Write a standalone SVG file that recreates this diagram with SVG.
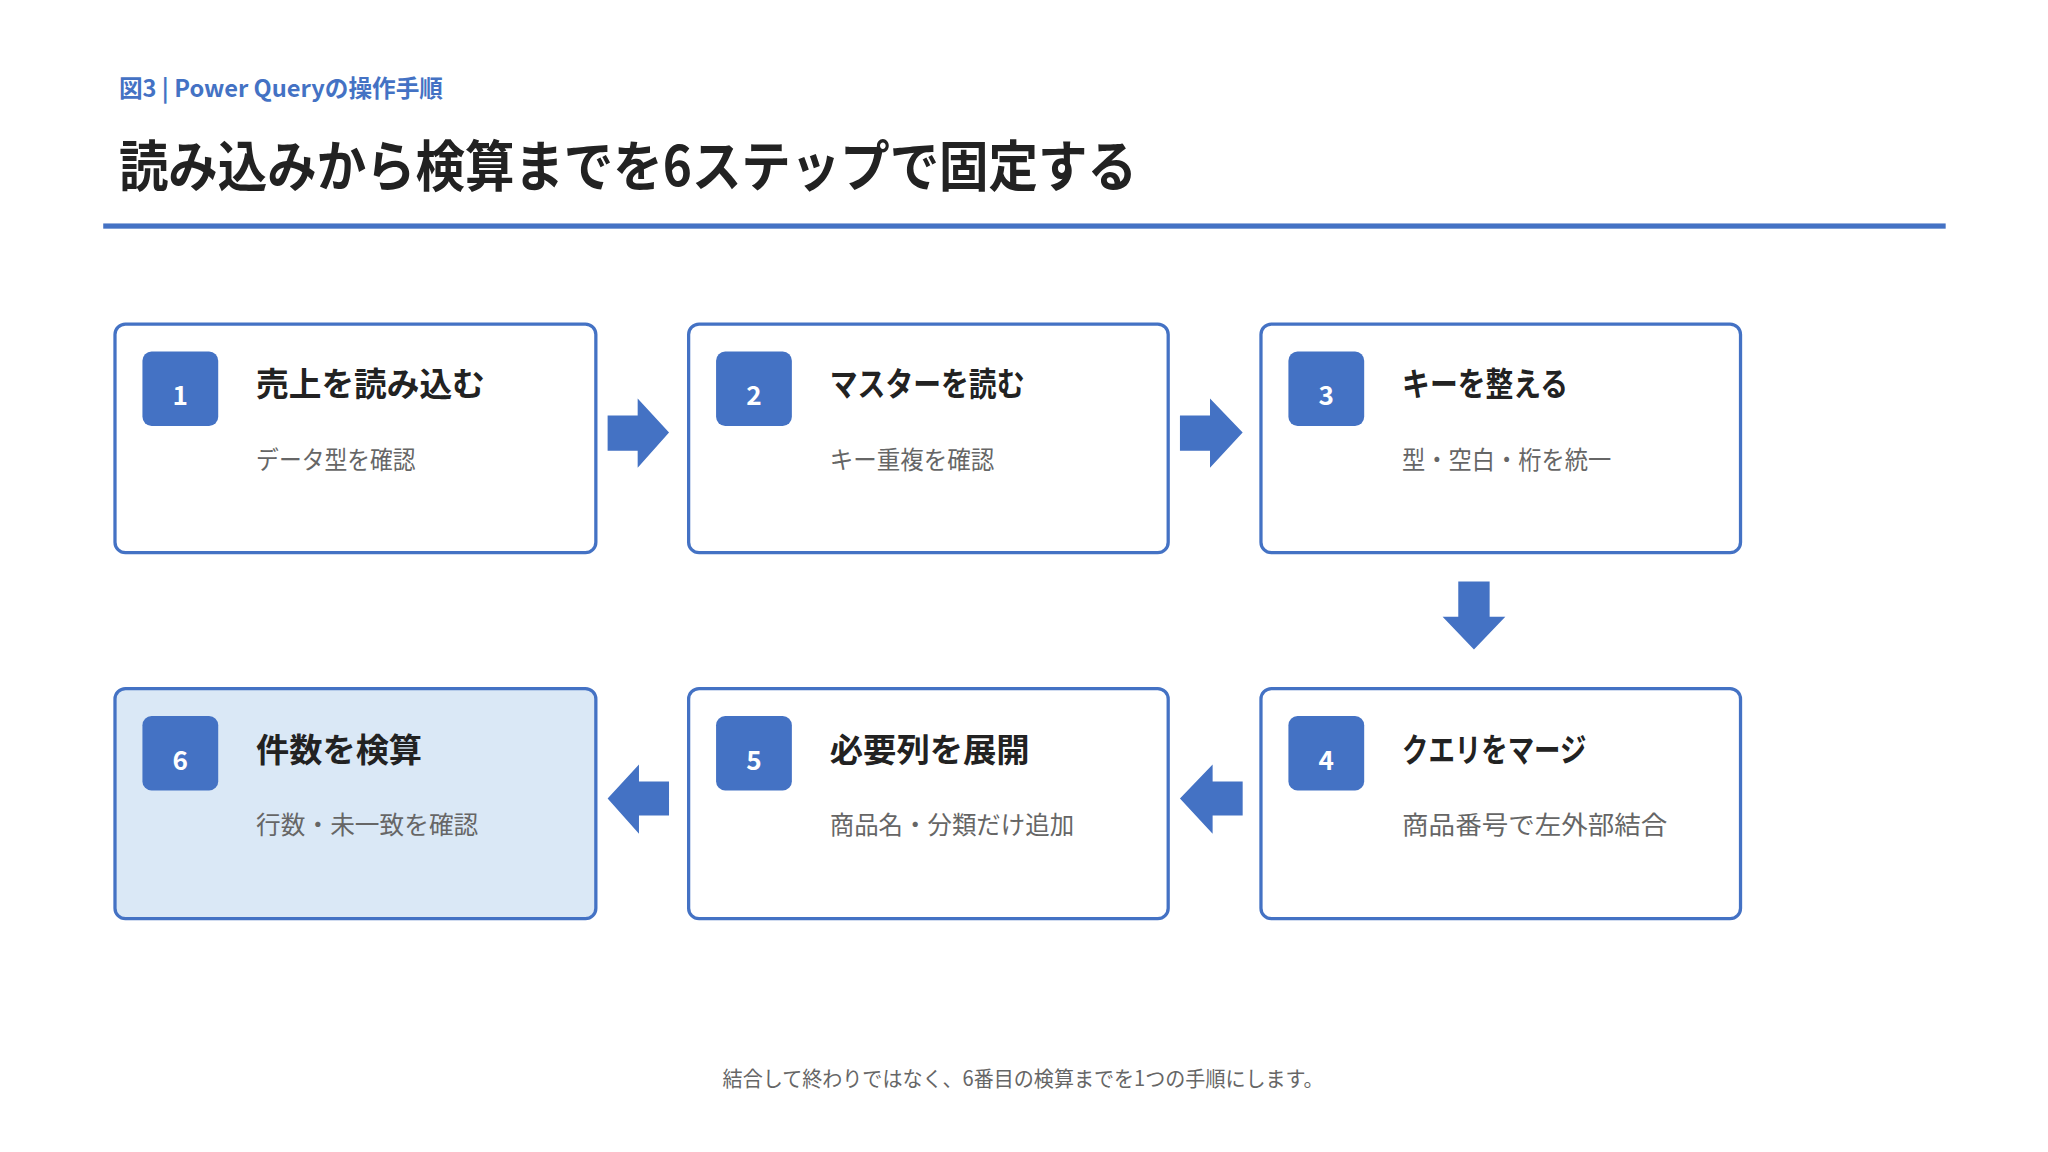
<svg xmlns="http://www.w3.org/2000/svg" width="2048" height="1152" viewBox="0 0 2048 1152">
<style>
text{font-family:"Noto Sans CJK JP","Noto Sans",sans-serif}
.box{fill:#fff;stroke:#4472C4;stroke-width:2.5}
.badge{fill:#4472C4}
.num{fill:#fff;font-size:20px;font-weight:bold;text-anchor:middle}
.ttl{fill:#222;font-size:25px;font-weight:bold}
.sub{fill:#666;font-size:19px}
.arr{fill:#4472C4}
</style>
<rect width="2048" height="1152" fill="#fff"/>
<g transform="scale(1.3067)">
<text x="91" y="74" fill="#4472C4" font-size="18" font-weight="bold" textLength="248" lengthAdjust="spacingAndGlyphs">図3 | Power Queryの操作手順</text>
<text x="91" y="142" fill="#222" font-size="42" font-weight="bold" textLength="779" lengthAdjust="spacingAndGlyphs">読み込みから検算までを6ステップで固定する</text>
<rect x="79" y="171" width="1410" height="4" fill="#4472C4"/>
<g id="n1"><rect class="box" x="88" y="248" width="368" height="175" rx="8"/><rect class="badge" x="109" y="269" width="58" height="57" rx="7"/><text class="num" x="138" y="310">1</text><text class="ttl" x="196" y="303" textLength="175" lengthAdjust="spacingAndGlyphs">売上を読み込む</text><text class="sub" x="196" y="359" textLength="122" lengthAdjust="spacingAndGlyphs">データ型を確認</text></g>
<g id="n2"><rect class="box" x="527" y="248" width="367" height="175" rx="8"/><rect class="badge" x="548" y="269" width="58" height="57" rx="7"/><text class="num" x="577" y="310">2</text><text class="ttl" x="635" y="303" textLength="149" lengthAdjust="spacingAndGlyphs">マスターを読む</text><text class="sub" x="635" y="359" textLength="126" lengthAdjust="spacingAndGlyphs">キー重複を確認</text></g>
<g id="n3"><rect class="box" x="965" y="248" width="367" height="175" rx="8"/><rect class="badge" x="986" y="269" width="58" height="57" rx="7"/><text class="num" x="1015" y="310">3</text><text class="ttl" x="1073" y="303" textLength="127" lengthAdjust="spacingAndGlyphs">キーを整える</text><text class="sub" x="1073" y="359" textLength="160" lengthAdjust="spacingAndGlyphs">型・空白・桁を統一</text></g>
<g id="n4"><rect class="box" x="965" y="527" width="367" height="176" rx="8"/><rect class="badge" x="986" y="548" width="58" height="57" rx="7"/><text class="num" x="1015" y="589">4</text><text class="ttl" x="1073" y="583" textLength="141" lengthAdjust="spacingAndGlyphs">クエリをマージ</text><text class="sub" x="1073" y="638" textLength="203" lengthAdjust="spacingAndGlyphs">商品番号で左外部結合</text></g>
<g id="n5"><rect class="box" x="527" y="527" width="367" height="176" rx="8"/><rect class="badge" x="548" y="548" width="58" height="57" rx="7"/><text class="num" x="577" y="589">5</text><text class="ttl" x="635" y="583" textLength="153" lengthAdjust="spacingAndGlyphs">必要列を展開</text><text class="sub" x="635" y="638" textLength="187" lengthAdjust="spacingAndGlyphs">商品名・分類だけ追加</text></g>
<g id="n6"><rect class="box" x="88" y="527" width="368" height="176" rx="8" style="fill:#DAE8F6"/><rect class="badge" x="109" y="548" width="58" height="57" rx="7"/><text class="num" x="138" y="589">6</text><text class="ttl" x="196" y="583" textLength="127" lengthAdjust="spacingAndGlyphs">件数を検算</text><text class="sub" x="196" y="638" textLength="170" lengthAdjust="spacingAndGlyphs">行数・未一致を確認</text></g>
<g id="connectors">
<polygon class="arr" points="465,318 488,318 488,305 512,331 488,358 488,345 465,345"/>
<polygon class="arr" points="903,318 926,318 926,305 951,331 926,358 926,345 903,345"/>
<polygon class="arr" points="1116,445 1140,445 1140,472 1152,472 1128,497 1104,472 1116,472"/>
<polygon class="arr" points="951,598 928,598 928,585 903,611 928,638 928,624 951,624"/>
<polygon class="arr" points="512,598 489,598 489,585 465,611 489,638 489,624 512,624"/>
</g>
<text x="553" y="831" fill="#666" font-size="16" textLength="460" lengthAdjust="spacingAndGlyphs">結合して終わりではなく、6番目の検算までを1つの手順にします。</text>
</g>
</svg>
